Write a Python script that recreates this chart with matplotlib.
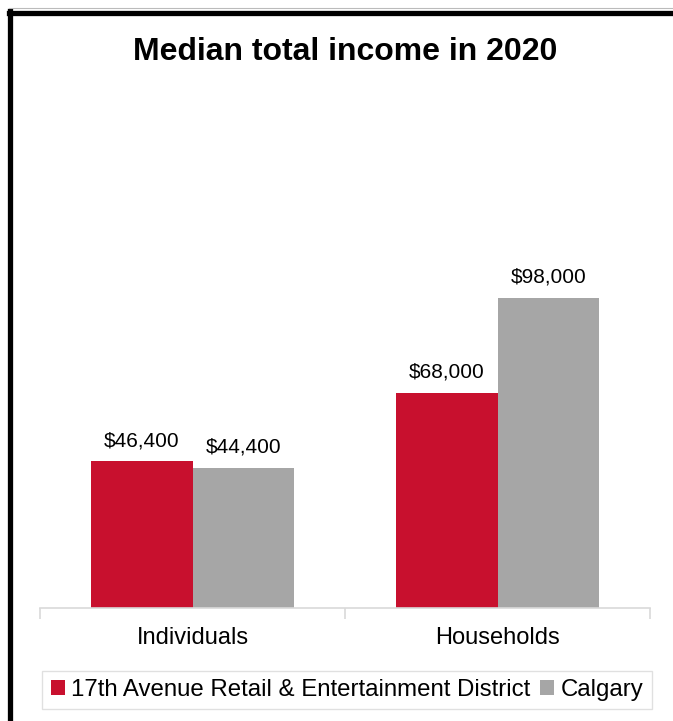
import matplotlib
matplotlib.use("Agg")
import matplotlib.pyplot as plt
from matplotlib.lines import Line2D
import numpy as np

plt.rcParams['font.family'] = ['Liberation Sans', 'DejaVu Sans']

categories = ["Individuals", "Households"]
series_names = ["17th Avenue Retail & Entertainment District", "Calgary"]
district_values = [46400, 68000]
calgary_values = [44400, 98000]
value_labels_district = ["$46,400", "$68,000"]
value_labels_calgary = ["$44,400", "$98,000"]
colors = ["#C8102E", "#A6A6A6"]
title = "Median total income in 2020"

W, H = 673, 721
fig = plt.figure(figsize=(W / 100, H / 100), dpi=100)

base_y = 608
top_y = 608 - 120000 * 310 / 98000
ax = fig.add_axes([40 / W, (H - base_y) / H, 610 / W, (base_y - top_y) / H])

x = np.arange(len(categories))
bw = 0.333
b1 = ax.bar(x - bw / 2, district_values, bw, color=colors[0], label=series_names[0])
b2 = ax.bar(x + bw / 2, calgary_values, bw, color=colors[1], label=series_names[1])

for bars, labs in ((b1, value_labels_district), (b2, value_labels_calgary)):
    for b, lab in zip(bars, labs):
        ax.annotate(lab, (b.get_x() + b.get_width() / 2, b.get_height()),
                    xytext=(0, 8), textcoords="offset points",
                    ha="center", va="bottom", fontsize=15, color="#000000")

ax.set_xlim(-0.5, 1.5)
ax.set_ylim(0, 120000)
for s in ["top", "right", "left"]:
    ax.spines[s].set_visible(False)
ax.spines["bottom"].set_color("#D9D9D9")
ax.spines["bottom"].set_linewidth(1.2)
ax.set_yticks([])
ax.set_xticks([-0.5, 0.5, 1.5], minor=False)
ax.set_xticklabels([])
ax.tick_params(axis="x", which="major", length=8, color="#D9D9D9", width=1.2)
ax.set_xticks(x, minor=True)
ax.set_xticklabels(categories, minor=True, fontsize=17)
ax.tick_params(axis="x", which="minor", length=0, pad=14)

fig.text(345 / W, 1 - 52 / H, title, ha="center", va="center",
         fontsize=23, fontweight="bold")

leg = fig.legend(loc="center", bbox_to_anchor=(347 / W, 1 - 690 / H),
                 ncol=2, frameon=True, fontsize=17.3, handlelength=0.6,
                 handleheight=0.6, handletextpad=0.25, columnspacing=0.4,
                 borderpad=0.35, borderaxespad=0, fancybox=False, edgecolor="#D9D9D9")
leg.get_frame().set_linewidth(1.0)

# black frame lines (top and left)
fig.add_artist(Line2D([9 / W, 1], [1 - 12.5 / H, 1 - 12.5 / H], color="black", lw=3.8, transform=fig.transFigure))
fig.add_artist(Line2D([9.5 / W, 9.5 / W], [0, 1 - 10.5 / H], color="black", lw=3.8, transform=fig.transFigure))
fig.add_artist(Line2D([9 / W, 1], [1 - 8 / H, 1 - 8 / H], color="#BBBBBB", lw=0.8, transform=fig.transFigure))

fig.savefig("out.png", dpi=100)
